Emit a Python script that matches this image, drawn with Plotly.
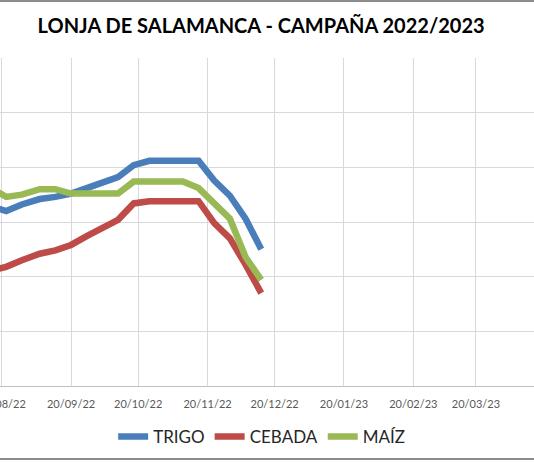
import plotly.graph_objects as go

# Lonja de Salamanca - weekly prices (EUR/t)
fechas = ['2022-08-16', '2022-08-22', '2022-08-29', '2022-09-06', '2022-09-13',
          '2022-09-20', '2022-09-27', '2022-10-04', '2022-10-11', '2022-10-18',
          '2022-10-25', '2022-11-02', '2022-11-09', '2022-11-16', '2022-11-23',
          '2022-11-30', '2022-12-07', '2022-12-14']

trigo = [332, 330, 333, 335.5, 336.5, 338, 340.5, 343, 345.5, 351,
         353, 353, 353, 353, 344, 337, 326.5, 312.5]
cebada = [303, 304.5, 307.5, 310.5, 312, 314.5, 318.5, 322, 326, 333.5,
          334.5, 334.5, 334.5, 334.5, 324.5, 317.5, 305.5, 292.5]
maiz = [340, 336.5, 337.5, 340, 340, 338, 338, 338, 338, 343.5,
        343.5, 343.5, 343.5, 340.5, 333.5, 326.5, 309, 298.5]

tick_vals = ['2022-08-20', '2022-09-20', '2022-10-20', '2022-11-20', '2022-12-20',
             '2023-01-20', '2023-02-20', '2023-03-20', '2023-04-20']
tick_text = ['20/08/22', '20/09/22', '20/10/22', '20/11/22', '20/12/22',
             '20/01/23', '20/02/23', '20/03/23', '20/04/23']

fig = go.Figure()

fig.add_trace(go.Scatter(x=fechas, y=trigo, name='TRIGO', mode='lines',
                         line=dict(color='#4a7ebb', width=6.5)))
fig.add_trace(go.Scatter(x=fechas, y=cebada, name='CEBADA', mode='lines',
                         line=dict(color='#be4b48', width=6.5)))
fig.add_trace(go.Scatter(x=fechas, y=maiz, name='MAÍZ', mode='lines',
                         line=dict(color='#98b954', width=6.5)))

# chart border lines (top and bottom of the Excel chart frame)
for yp in [1.174, -0.2225]:
    fig.add_shape(type='line', xref='paper', yref='paper', x0=0, x1=1,
                  y0=yp, y1=yp, layer='above',
                  line=dict(color='#8c8c8c', width=2))

fig.update_layout(dict(
    width=534,
    height=462,
    paper_bgcolor='white',
    plot_bgcolor='white',
    margin=dict(l=0, r=0, t=58, b=76, autoexpand=False),
    font=dict(family='Lato, Calibri, sans-serif', color='#595959'),
    title=dict(text='<b>LONJA DE SALAMANCA - CAMPAÑA 2022/2023</b>',
               x=0.489, xanchor='center', y=0.943, yanchor='middle',
               font=dict(size=20, color='#000000')),
    showlegend=True,
    legend=dict(orientation='h', x=0.49, xanchor='center', y=-0.155,
                yanchor='middle', itemwidth=30,
                font=dict(size=17, color='#262626')),
    xaxis=dict(
        type='date', automargin=False,
        range=['2022-08-19 05:45', '2023-04-14 22:30'],
        tickmode='array', tickvals=tick_vals, ticktext=tick_text,
        showgrid=True, gridcolor='#d9d9d9', gridwidth=1,
        showline=True, linecolor='#bfbfbf', linewidth=1.2,
        ticks='', ticklen=0, ticklabelstandoff=8,
        ticklabeloverflow='allow',
        tickfont=dict(size=11, color='#595959'),
        zeroline=False,
    ),
    yaxis=dict(
        range=[250, 400], dtick=25, automargin=False,
        showgrid=True, gridcolor='#d9d9d9', gridwidth=1,
        showticklabels=False, zeroline=False, showline=False,
    ),
))

# drop the default page margin so the figure sits at the window's corner
fig.write_html('out.html', config={'displayModeBar': False},
               post_script="document.body.style.margin='0';")
